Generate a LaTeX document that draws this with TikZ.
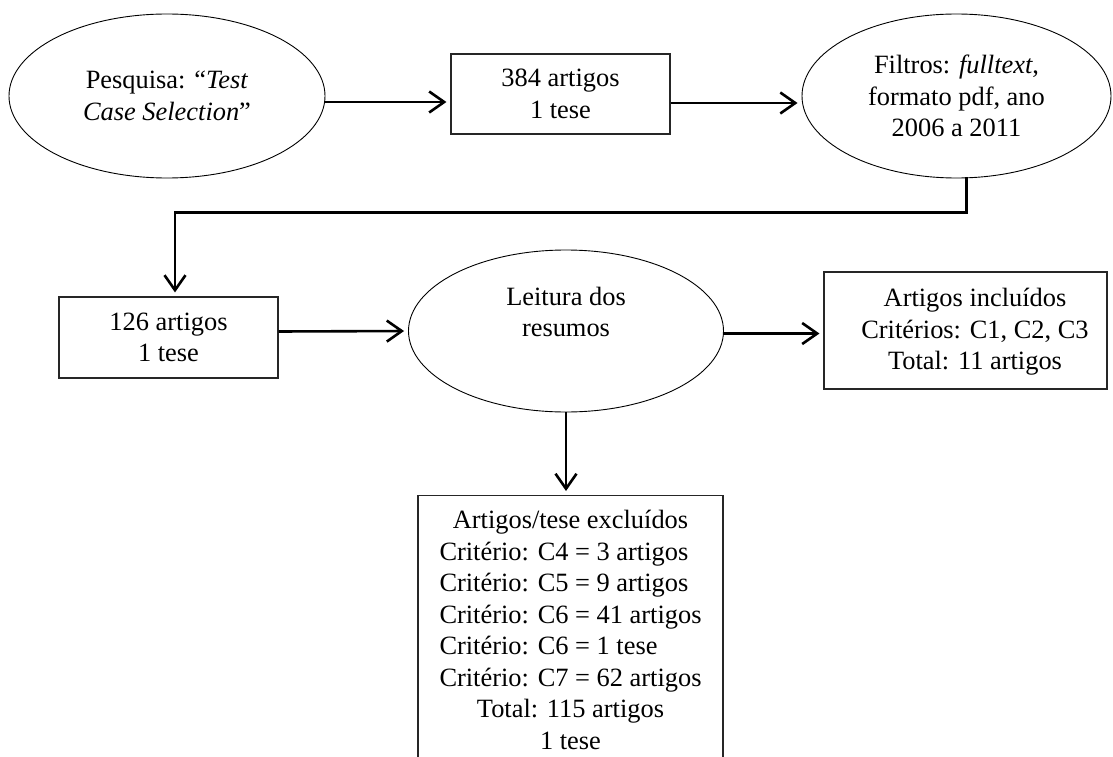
\documentclass[tikz,border=0pt]{standalone}
\usepackage{fontspec}
\setmainfont{Liberation Serif}
\usetikzlibrary{arrows.meta,shapes.geometric,calc}
\begin{document}
\begin{tikzpicture}[x=1pt,y=-1pt,
  txt/.style={font=\fontsize{26.4}{31.5}\selectfont, align=center, inner sep=0pt},
  ell/.style={txt, ellipse, draw=black, line width=0.9pt},
  boxn/.style={txt, rectangle, draw=black!85, line width=1.1pt},
  arr/.style={line width=2.6pt, -{Straight Barb[length=15pt,width=21pt]}, shorten >=4pt}]
\useasboundingbox (0,0) rectangle (1113,757);
\clip (0,0) rectangle (1113,757);

\node[ell, minimum width=316pt, minimum height=164pt] (e1) at (167,96)
  {Pesquisa: “\textit{Test}\\\textit{Case Selection}”};
\node[boxn, minimum width=219pt, minimum height=80pt] (b1) at (560.5,94)
  {384 artigos\\1 tese};
\node[ell, minimum width=309pt, minimum height=164pt] (e3) at (956.5,96)
  {Filtros: \textit{fulltext},\\formato pdf, ano\\2006 a 2011};
\node[boxn, minimum width=219pt, minimum height=81pt] (b2) at (168.5,337.5)
  {126 artigos\\1 tese};
\node[ell, minimum width=315pt, minimum height=162pt] (e4) at (566,331) {};
\node[txt] (t4) at (566,312) {Leitura dos\\resumos};
\node[boxn, minimum width=283pt, minimum height=117pt] (b3) at (965.5,330.5) {};
\node[txt] (t3) at (975,332) {Artigos incluídos\\Critérios: C1, C2, C3\\Total: 11 artigos};
\node[boxn, anchor=north, minimum width=305pt, inner ysep=11pt] (b4) at (570.5,495)
  {\begin{tabular}{@{}l@{}}
   \multicolumn{1}{@{}c@{}}{Artigos/tese excluídos}\\
   Critério: C4 = 3 artigos\\
   Critério: C5 = 9 artigos\\
   Critério: C6 = 41 artigos\\
   Critério: C6 = 1 tese\\
   Critério: C7 = 62 artigos\\
   \multicolumn{1}{@{}c@{}}{Total: 115 artigos}\\
   \multicolumn{1}{@{}c@{}}{1 tese}
   \end{tabular}};

\draw[arr] ([yshift=-6pt]e1.east) -- ([yshift=-8pt]b1.west);
\draw[arr] ([yshift=-9pt]b1.east) -- ([yshift=-7pt]e3.west);
\draw[arr] ([xshift=10pt,yshift=1pt]e3.south) -- ++(0,35) -| ([xshift=6.5pt]b2.north);
\draw[arr] ([yshift=6pt]b2.east) -- (e4.west);
\draw[arr] ([yshift=-2.5pt]e4.east) -- ([yshift=-3pt]b3.west);
\draw[arr] (e4.south) -- (e4.south |- b4.north);
\end{tikzpicture}
\end{document}
